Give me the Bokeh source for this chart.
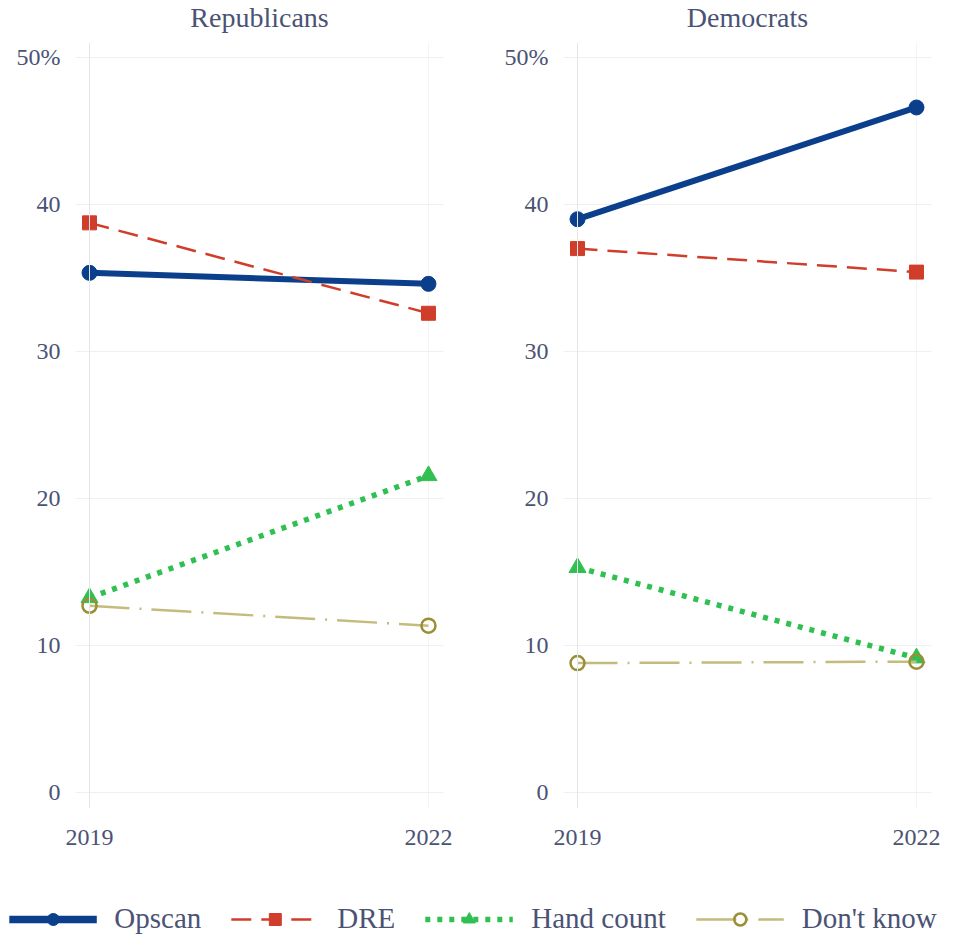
from bokeh.plotting import figure
from bokeh.models import Range1d, FixedTicker, Span, Legend, LegendItem, Label
from bokeh.layouts import row, column
from bokeh.embed import file_html
from bokeh.resources import INLINE

# ---------------- data ----------------
years = [2019, 2022]
panel_titles = ["Republicans", "Democrats"]
series_names = ["Opscan", "DRE", "Hand count", "Don't know"]

rep_opscan = [35.35, 34.6]
rep_dre = [38.75, 32.6]
rep_hand = [13.25, 21.55]
rep_dontknow = [12.7, 11.35]

dem_opscan = [39.0, 46.6]
dem_dre = [37.0, 35.4]
dem_hand = [15.3, 9.15]
dem_dontknow = [8.8, 8.9]

y_ticks = [0, 10, 20, 30, 40, 50]
y_tick_labels = ["0", "10", "20", "30", "40", "50%"]

# ---------------- styles ----------------
FONT = "Liberation Serif"
TEXT = "#4b5374"
FRAME_W = 368
FRAME_H = 766
TITLE_H = 34

styles = [
    dict(color="#0b3f8c", width=6, dash="solid", marker="circle", size=15,
         fill="#0b3f8c", fill_alpha=1.0, mline="#0b3f8c", mlw=1),
    dict(color="#d03e2b", width=2.5, dash="20 10", marker="square", size=14,
         fill="#d03e2b", fill_alpha=1.0, mline="#d03e2b", mlw=1),
    dict(color="#30c052", width=5.5, dash="5 7", marker="triangle", size=17,
         fill="#30c052", fill_alpha=1.0, mline="#30c052", mlw=1),
    dict(color="#c3bc7d", width=2.5, dash="40 10 2 10", marker="circle", size=14,
         fill="white", fill_alpha=0.0, mline="#9c8e35", mlw=2.5),
]


def make_title(title, border_left, border_right):
    w = border_left + FRAME_W + border_right
    t = figure(width=w, height=TITLE_H, x_range=Range1d(0, w), y_range=Range1d(0, TITLE_H),
               x_axis_type=None, y_axis_type=None, min_border=0,
               output_backend="svg", toolbar_location=None)
    t.outline_line_color = None
    t.grid.visible = False
    t.add_layout(Label(x=border_left + FRAME_W / 2, y=TITLE_H / 2, text=title,
                       text_align="center", text_baseline="middle",
                       text_font=FONT, text_font_size="28px", text_color=TEXT))
    return t


def make_panel(series, border_left, border_right):
    p = figure(
        x_range=Range1d(years[0] - 0.124, years[-1] + 0.133),
        y_range=Range1d(-1.09, 51.02),
        frame_width=FRAME_W, frame_height=FRAME_H,
        min_border_left=border_left, min_border_right=border_right,
        min_border_top=8, min_border_bottom=45,
        output_backend="svg", toolbar_location=None,
    )
    p.outline_line_color = None
    p.background_fill_color = "white"
    p.border_fill_color = "white"

    for ax in (p.xaxis, p.yaxis):
        ax.axis_line_color = None
        ax.major_tick_line_color = None
        ax.minor_tick_line_color = None
        ax.major_tick_out = 0
        ax.major_tick_in = 0
        ax.major_label_text_font = FONT
        ax.major_label_text_font_size = "24px"
        ax.major_label_text_color = TEXT

    p.xaxis.ticker = FixedTicker(ticks=years)
    p.xaxis.major_label_standoff = 21
    p.yaxis.ticker = FixedTicker(ticks=y_ticks)
    p.yaxis.major_label_overrides = {float(t): l for t, l in zip(y_ticks, y_tick_labels)}
    p.yaxis.major_label_standoff = 15

    p.xgrid.ticker = FixedTicker(ticks=years)
    p.ygrid.ticker = FixedTicker(ticks=y_ticks)
    p.xgrid.grid_line_color = "#f4f4f4"
    p.ygrid.grid_line_color = "#f0f0f0"
    p.add_layout(Span(location=years[0], dimension="height", line_color="#e6e6e6", line_width=1))

    for vals, st in zip(series, styles):
        p.line(years, vals, line_color=st["color"], line_width=st["width"], line_dash=st["dash"])
        p.scatter(years, vals, marker=st["marker"], size=st["size"],
                  fill_color=st["fill"], fill_alpha=st["fill_alpha"],
                  line_color=st["mline"], line_width=st["mlw"])
    return p


t1 = make_title(panel_titles[0], 75, 53)
t2 = make_title(panel_titles[1], 67, 14)
p1 = make_panel([rep_opscan, rep_dre, rep_hand, rep_dontknow], 75, 53)
p2 = make_panel([dem_opscan, dem_dre, dem_hand, dem_dontknow], 67, 14)

# ---------------- legend ----------------
leg = figure(width=945, height=82, x_range=Range1d(0, 1), y_range=Range1d(0, 1),
             x_axis_type=None, y_axis_type=None, min_border=0,
             output_backend="svg", toolbar_location=None)
leg.outline_line_color = None
leg.grid.visible = False

hidden_x = [-5]
hidden_y = [-5]
items = []
for name, st in zip(series_names, styles):
    r1 = leg.line(x=hidden_x + hidden_x, y=hidden_y + hidden_y, line_color=st["color"],
                  line_width=st["width"] + (1.5 if st["width"] > 5.8 else 0), line_dash=st["dash"])
    r2 = leg.scatter(x=hidden_x, y=hidden_y, marker=st["marker"], size=st["size"],
                     fill_color=st["fill"], fill_alpha=st["fill_alpha"],
                     line_color=st["mline"], line_width=st["mlw"])
    items.append(LegendItem(label=name, renderers=[r1, r2]))

legend = Legend(items=items, orientation="horizontal", location="bottom_center",
                label_text_font=FONT, label_text_font_size="29px", label_text_color=TEXT,
                glyph_width=88, glyph_height=30, label_standoff=18, spacing=30,
                padding=0, margin=0, border_line_color=None, background_fill_alpha=0)
leg.add_layout(legend)

layout = column(row(t1, t2, spacing=0), row(p1, p2, spacing=0), leg, spacing=0)

open("out.html", "w").write(file_html(layout, INLINE))
